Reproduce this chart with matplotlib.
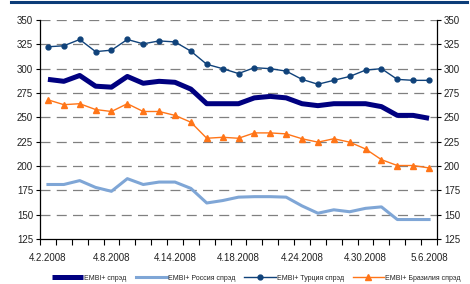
import matplotlib
matplotlib.use("Agg")
import matplotlib.pyplot as plt
import numpy as np

plt.rcParams['font.family'] = ['Liberation Sans', 'DejaVu Sans']

dates = ['4.2.2008', '4.3.2008', '4.4.2008', '4.7.2008', '4.8.2008', '4.9.2008', '4.10.2008',
         '4.11.2008', '4.14.2008', '4.15.2008', '4.16.2008', '4.17.2008', '4.18.2008',
         '4.21.2008', '4.22.2008', '4.23.2008', '4.24.2008', '4.25.2008', '4.28.2008',
         '4.29.2008', '4.30.2008', '5.1.2008', '5.2.2008', '5.5.2008', '5.6.2008']

embi = [289, 287, 293, 282, 281, 292, 285, 287, 286, 279, 264, 264, 264,
        270, 271.5, 270, 264, 262, 264, 264, 264, 261, 252, 252, 249]
russia = [181, 181, 185, 178, 174, 187, 181, 183.5, 183.5, 177, 162, 164.5, 168,
          168.5, 168.5, 168, 159, 151.5, 155, 153, 156.5, 158, 145, 145, 145]
turkey = [322.5, 323.5, 330, 317.5, 319, 330, 325.5, 328.5, 327.5, 318, 304.5, 300, 295,
          301, 300, 297.5, 289, 284, 288, 292, 298.5, 300, 289, 288, 288]
brazil = [268, 263, 264, 258, 256, 264, 256, 256, 252, 245, 228.5, 229.5, 228.5,
          234, 234, 233, 228, 224.5, 228, 224.5, 217.5, 206.5, 200.5, 200.5, 198]

labels = ['EMBI+ спрэд', 'EMBI+ Россия спрэд', 'EMBI+ Турция спрэд', 'EMBI+ Бразилия спрэд']

fig = plt.figure(figsize=(4.7, 2.84), dpi=100)
ax = fig.add_axes([40 / 470, 1 - 239 / 284, 397 / 470, 219 / 284])
x = np.arange(len(dates))

ax.plot(x, embi, color='#000080', lw=3.6, solid_joinstyle='round', solid_capstyle='butt', label=labels[0], zorder=3)
ax.plot(x, russia, color='#7fa6d6', lw=2.2, solid_joinstyle='round', label=labels[1], zorder=3)
ax.plot(x, turkey, color='#10427a', lw=1.0, marker='o', ms=3.5, label=labels[2], zorder=3)
ax.plot(x, brazil, color='#ff7518', lw=1.0, marker='^', ms=4.5, label=labels[3], zorder=3)

ax.set_xlim(-0.5, len(dates) - 0.5)
ax.set_ylim(125, 350)
yt = np.arange(125, 351, 25)
ax.set_yticks(yt)
for v in yt[1:]:
    ax.axhline(v, color='#808080', lw=0.9, ls=(0, (8, 5)), zorder=1)

ax.set_xticks(x[::4])
ax.set_xticklabels(dates[::4])
ax.set_xticks(np.arange(-0.5, len(dates), 1), minor=True)
ax.tick_params(axis='x', which='major', length=0, pad=10, labelsize=7, colors='#222222')
ax.tick_params(axis='x', which='minor', length=4, width=0.8, direction='out')
ax.tick_params(axis='y', length=3, width=0.8, labelsize=7,
               left=True, right=True, labelleft=True, labelright=True, pad=2)
for lbl in ax.get_yticklabels() + ax.get_yticklabels(which='major'):
    lbl.set_color('#222222')
ax.tick_params(axis='y', labelcolor='#222222')

ax.spines['top'].set_visible(False)
for s in ['left', 'right', 'bottom']:
    ax.spines[s].set_linewidth(0.9)

leg = fig.legend(loc='center left', bbox_to_anchor=(52 / 470, 1 - 278 / 284), ncol=4, frameon=False,
                 fontsize=5.0, handlelength=4.5, columnspacing=1.3, handletextpad=0.15,
                 borderpad=0, borderaxespad=0)
for t in leg.get_texts():
    t.set_color('#222222')

fig.add_artist(plt.Line2D([11 / 470, 467 / 470], [1 - 1.5 / 284, 1 - 1.5 / 284],
                          color='#0b3c78', lw=2.2, transform=fig.transFigure))

fig.savefig('out.png', dpi=100)
